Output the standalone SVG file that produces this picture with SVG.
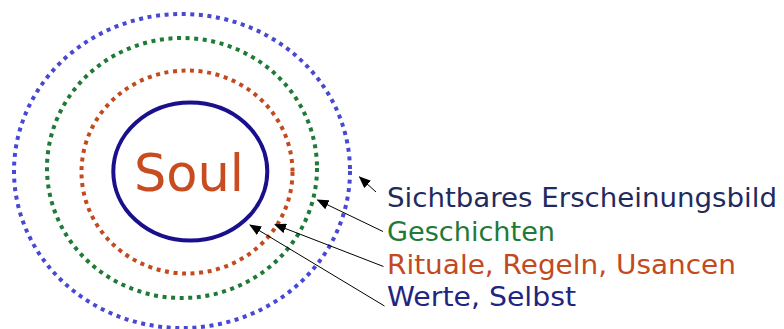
<svg xmlns="http://www.w3.org/2000/svg" width="784" height="329" viewBox="0 0 784 329">
<style>
.ring{fill:none;stroke-width:4;stroke-dasharray:4 4.6}
.lbl{font-family:"DejaVu Sans","Liberation Sans",sans-serif;font-size:26px}
.con{stroke:#000;stroke-width:1;fill:none;marker-end:url(#ah)}
</style>
<defs>
<marker id="ah" markerWidth="12" markerHeight="10" refX="11" refY="5" orient="auto" markerUnits="userSpaceOnUse">
<path d="M0,0 L12,5 L0,10 Z" fill="#000"/>
</marker>
</defs>
<rect width="784" height="329" fill="#fff"/>
<g id="ring-outer"><ellipse class="ring" cx="182" cy="171" rx="168" ry="157" stroke="#4848d4"/></g>
<g id="ring-green"><ellipse class="ring" cx="182" cy="168" rx="135" ry="130" stroke="#1e7a36"/></g>
<g id="ring-red"><ellipse class="ring" cx="187" cy="172" rx="105.5" ry="101.5" stroke="#c24a1e"/></g>
<g id="soul">
<ellipse cx="190.3" cy="171.5" rx="77" ry="69" fill="none" stroke="#1a0f8c" stroke-width="4"/>
<text x="189" y="191" text-anchor="middle" font-family="DejaVu Sans, Liberation Sans, sans-serif" font-size="51" fill="#c84c20">Soul</text>
</g>
<g id="connectors">
<line class="con" x1="376" y1="192" x2="359.5" y2="177"/>
<line class="con" x1="383" y1="231.5" x2="317.5" y2="200"/>
<line class="con" x1="383.5" y1="266.5" x2="275" y2="224.5"/>
<line class="con" x1="384.5" y1="306" x2="250" y2="225"/>
</g>
<g id="label-sichtbar"><text class="lbl" x="387" y="207" fill="#1f2b5e" textLength="390" lengthAdjust="spacingAndGlyphs">Sichtbares Erscheinungsbild</text></g>
<g id="label-geschichten"><text class="lbl" x="387" y="240.5" fill="#1e7a36" textLength="168" lengthAdjust="spacingAndGlyphs">Geschichten</text></g>
<g id="label-rituale"><text class="lbl" x="387" y="274" fill="#c24a1e" textLength="349" lengthAdjust="spacingAndGlyphs">Rituale, Regeln, Usancen</text></g>
<g id="label-werte"><text class="lbl" x="387" y="306" fill="#1f2580" textLength="189" lengthAdjust="spacingAndGlyphs">Werte, Selbst</text></g>
</svg>
